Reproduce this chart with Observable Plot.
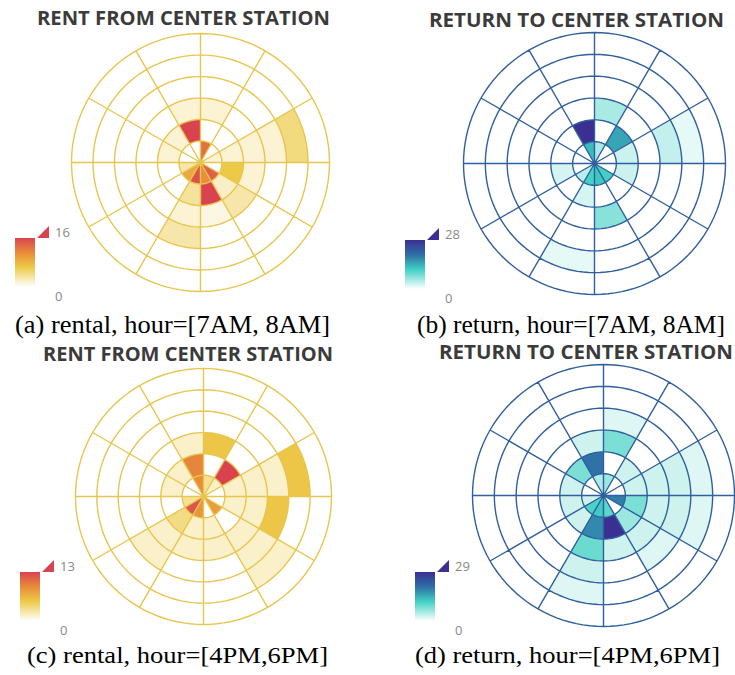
<!DOCTYPE html>
<html><head><meta charset="utf-8">
<script src="https://cdn.jsdelivr.net/npm/d3@7"></script>
<script src="https://cdn.jsdelivr.net/npm/@observablehq/plot@0.6"></script>
<style>
html,body{margin:0;padding:0;background:#fff;}
#page{position:relative;width:735px;height:675px;overflow:hidden;background:#fff;}
#page > svg{position:absolute;}
</style></head><body><div id="page"></div>
<script>
// 12 sectors of 30° (clockwise from north), 6 rings (inner -> outer)
const sectorLabels = d3.range(12);
const ringLabels = d3.range(6);

// values[sector][ring]
const rentAM = [
  [13, 0, 1.5, 0, 0, 0],
  [0, 0, 0, 0, 0, 0],
  [1.5, 1.5, 1.5, 1.5, 4.5, 0],
  [0, 6.5, 1.5, 0, 0, 0],
  [14, 2, 3, 0, 0, 0],
  [11, 16, 1, 0, 0, 0],
  [15, 3.5, 1.5, 3, 0, 0],
  [9, 0, 0, 0, 0, 0],
  [3, 0, 0, 0, 0, 0],
  [0, 1.5, 0, 0, 0, 0],
  [0, 1.5, 0, 0, 0, 0],
  [0, 16, 1.5, 0, 0, 0]
];
const returnAM = [
  [5, 0, 5, 0, 0, 0],
  [0, 15, 0, 0, 0, 0],
  [0, 3, 0, 3.5, 1.5, 0],
  [0, 3, 0, 0, 0, 0],
  [11, 0, 0, 0, 0, 0],
  [12, 0, 7, 0, 0, 0],
  [11, 2.5, 0, 0, 1.5, 0],
  [4, 0, 0, 0, 0, 0],
  [0, 2.5, 0, 0, 0, 0],
  [0, 0, 0, 0, 0, 0],
  [0, 0, 0, 0, 0, 0],
  [13, 28, 0, 0, 0, 0]
];
const rentPM = [
  [3, 0, 5.5, 0, 0, 0],
  [1.5, 13, 0, 0, 0, 0],
  [0, 1.5, 1.5, 1.5, 5.5, 0],
  [0, 1.5, 1.5, 5.5, 0, 0],
  [8, 0, 1.5, 1.5, 1.5, 0],
  [0, 1.5, 1.5, 0, 0, 0],
  [8.5, 1.5, 1.5, 0, 0, 0],
  [12, 3.5, 1.5, 1.5, 0, 0],
  [3, 0, 0, 0, 0, 0],
  [0, 1.5, 0, 0, 0, 0],
  [0, 1.5, 0, 0, 0, 0],
  [9, 9.5, 1.5, 0, 0, 0]
];
const returnPM = [
  [6, 0, 8, 2, 0, 0],
  [0, 3, 0, 0, 0, 0],
  [0, 3, 3, 3, 2, 0],
  [19, 8, 3, 3, 2, 0],
  [0, 6, 3, 2, 0, 0],
  [10, 29, 3, 0, 0, 0],
  [12, 18, 9, 3, 2, 0],
  [11, 3, 0, 0, 0, 0],
  [3, 3, 0, 0, 0, 0],
  [0, 3, 0, 0, 0, 0],
  [0, 8, 0, 0, 0, 0],
  [5, 20, 3, 0, 0, 0]
];
const legendMax = [16, 28, 13, 29];
const titles = ["RENT FROM CENTER STATION", "RETURN TO CENTER STATION", "RENT FROM CENTER STATION", "RETURN TO CENTER STATION"];
const captions = ["(a) rental, hour=[7AM, 8AM]", "(b) return, hour=[7AM, 8AM]", "(c) rental, hour=[4PM,6PM]", "(d) return, hour=[4PM,6PM]"];

// styles
const rentColors = ["#ffffff", "#edca48", "#e88c3a", "#d9434f"];
const returnColors = ["#ffffff", "#40d0c3", "#2f6ea6", "#3b2f92"];
const rentGrid = "#e8c54c";
const returnGrid = "#2f5f9e";

const layout = [
  {cx: 200, cy: 162, R: 129, tx: 37, tw: 293, ty: 25, capx: 15, capw: 315, capy: 333, capfs: 25, lx: 15, ly: 238},
  {cx: 594, cy: 163, R: 131, tx: 429, tw: 295, ty: 27, capx: 417, capw: 308, capy: 333, capfs: 25, lx: 405, ly: 240},
  {cx: 203, cy: 496, R: 128, tx: 43, tw: 290, ty: 361, capx: 27, capw: 301, capy: 663, capfs: 24, lx: 20, ly: 572},
  {cx: 603, cy: 495, R: 131, tx: 439, tw: 294, ty: 359, capx: 415, capw: 305, capy: 663, capfs: 24, lx: 415, ly: 572}
];
const datasets = [rentAM, returnAM, rentPM, returnPM];
const schemes = [rentColors, returnColors, rentColors, returnColors];
const grids = [rentGrid, returnGrid, rentGrid, returnGrid];

const NR = ringLabels.length, NS = sectorLabels.length, STEP = 360 / NS;
const rad = a => a * Math.PI / 180;
const pt = (r, a) => [r * Math.sin(rad(a)), -r * Math.cos(rad(a))];

function cellPolygon(s, r) {
  const a0 = s * STEP, n = 16, pts = [];
  for (let i = 0; i <= n; i++) pts.push(pt(r + 1, a0 + STEP * i / n));
  for (let i = n; i >= 0; i--) pts.push(pt(r, a0 + STEP * i / n));
  pts.push(pts[0]);
  return pts;
}
function circle(r) {
  return d3.range(0, 361, 3).map(a => pt(r, a));
}

const page = document.getElementById("page");

datasets.forEach((values, i) => {
  const L = layout[i];
  const max = legendMax[i];
  const cells = [];
  values.forEach((rv, s) => rv.forEach((v, r) => cells.push({
    type: "Feature", properties: {sector: sectorLabels[s], ring: ringLabels[r], v},
    geometry: {type: "Polygon", coordinates: [cellPolygon(s, r)]}
  })));
  const gridLines = {
    type: "Feature", properties: {},
    geometry: {type: "MultiLineString", coordinates: [
      ...d3.range(1, NR + 1).map(circle),
      ...sectorLabels.map(s => [[0, 0], pt(NR, s * STEP)])
    ]}
  };
  const outer = {type: "LineString", coordinates: circle(NR)};
  const m = 2;
  const size = 2 * L.R + 2 * m;
  const svg = Plot.plot({
    width: size, height: size, margin: m,
    style: {background: "transparent", overflow: "visible"},
    projection: {type: "identity", domain: outer},
    color: {type: "linear", domain: [0, 0.4 * max, 0.7 * max, max], range: schemes[i], interpolate: "rgb"},
    marks: [
      Plot.geo(cells, {fill: d => d.properties.v, stroke: null}),
      Plot.geo([gridLines], {stroke: grids[i], strokeWidth: 1.4, fill: "none"})
    ]
  });
  svg.style.left = (L.cx - L.R - m) + "px";
  svg.style.top = (L.cy - L.R - m) + "px";
  page.appendChild(svg);
});

// overlay: titles, captions, legends
const ov = d3.select(page).append("svg").attr("width", 735).attr("height", 675).style("left", 0).style("top", 0);
const defs = ov.append("defs");
layout.forEach((L, i) => {
  ov.append("text").attr("x", L.tx).attr("y", L.ty)
    .attr("textLength", L.tw).attr("lengthAdjust", "spacingAndGlyphs")
    .attr("font-family", "'Open Sans', 'Noto Sans', sans-serif").attr("font-weight", 700)
    .attr("font-size", 20).attr("fill", "#3b3b3b").text(titles[i]);
  ov.append("text").attr("x", L.capx).attr("y", L.capy)
    .attr("textLength", L.capw).attr("lengthAdjust", "spacingAndGlyphs")
    .attr("font-family", "'Liberation Serif', 'Times New Roman', serif")
    .attr("font-size", L.capfs).attr("fill", "#000").text(captions[i]);
  // legend
  const cols = schemes[i];
  const gid = "g" + i;
  const g = defs.append("linearGradient").attr("id", gid).attr("x1", 0).attr("y1", 0).attr("x2", 0).attr("y2", 1);
  [[0, 3], [0.3, 2], [0.6, 1], [1, 0]].forEach(([o, c]) => g.append("stop").attr("offset", o).attr("stop-color", cols[c]));
  const bw = 20, bh = 49;
  ov.append("rect").attr("x", L.lx).attr("y", L.ly).attr("width", bw).attr("height", bh).attr("fill", `url(#${gid})`);
  ov.append("path").attr("d", `M${L.lx + bw + 2},${L.ly}L${L.lx + bw + 14},${L.ly}L${L.lx + bw + 14},${L.ly - 12}Z`).attr("fill", cols[3]);
  ov.append("text").attr("x", L.lx + 40).attr("y", L.ly - 1).attr("font-family", "'Open Sans', sans-serif")
    .attr("font-size", 13).attr("fill", "#888").text(legendMax[i]);
  ov.append("text").attr("x", L.lx + 40).attr("y", L.ly + 63).attr("font-family", "'Open Sans', sans-serif")
    .attr("font-size", 13).attr("fill", "#888").text("0");
});
</script>
</body></html>
